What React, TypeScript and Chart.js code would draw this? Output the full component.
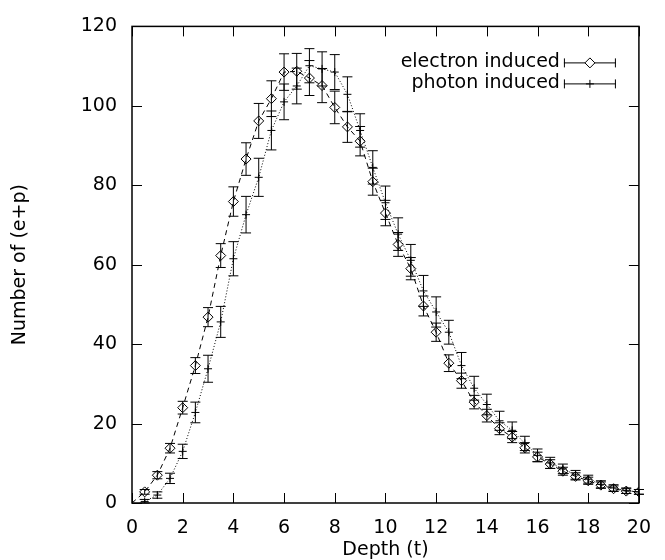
import React, { useEffect, useRef } from "react";
import { Chart, registerables } from "chart.js";

Chart.register(...registerables);

// ---- data ----
const depth = [
  0.5, 1, 1.5, 2, 2.5, 3, 3.5, 4, 4.5, 5,
  5.5, 6, 6.5, 7, 7.5, 8, 8.5, 9, 9.5, 10,
  10.5, 11, 11.5, 12, 12.5, 13, 13.5, 14, 14.5, 15,
  15.5, 16, 16.5, 17, 17.5, 18, 18.5, 19, 19.5, 20,
];

const electronValues = [
  2.8, 7.0, 13.8, 24.0, 34.6, 46.8, 62.3, 75.9, 86.6, 96.2,
  101.8, 108.5, 108.7, 107.0, 105.1, 99.6, 94.7, 91.1, 80.9, 73.0,
  65.1, 59.0, 49.6, 43.0, 35.2, 30.8, 25.4, 22.0, 18.7, 16.6,
  13.9, 11.6, 9.8, 8.0, 6.7, 5.6, 4.5, 3.6, 3.0, 2.8,
];

const electronErrors = [
  0.6, 0.9, 1.2, 1.6, 2.0, 2.4, 3.0, 3.7, 4.1, 4.4,
  4.5, 4.6, 4.5, 4.4, 4.3, 4.1, 3.9, 3.7, 3.4, 3.2,
  3.0, 2.8, 2.5, 2.3, 2.1, 1.9, 1.7, 1.6, 1.5, 1.4,
  1.3, 1.2, 1.1, 1.0, 0.9, 0.9, 0.8, 0.7, 0.6, 0.6,
];

const photonValues = [
  0.4, 2.0, 6.2, 13.0, 22.8, 33.8, 45.6, 61.5, 72.6, 82.0,
  93.8, 101.0, 105.0, 110.1, 109.3, 108.5, 102.9, 93.8, 84.5, 75.6,
  67.7, 61.1, 53.4, 48.1, 43.0, 34.6, 28.9, 24.8, 20.7, 18.3,
  15.0, 12.0, 10.1, 8.6, 7.1, 6.0, 4.7, 3.8, 3.1, 2.8,
];

const photonErrors = [
  0.5, 0.8, 1.3, 1.8, 2.6, 3.4, 3.9, 4.3, 4.6, 4.8,
  4.9, 4.5, 4.5, 4.3, 4.3, 4.4, 4.4, 4.2, 4.2, 4.2,
  4.1, 4.0, 3.9, 3.8, 3.0, 3.3, 3.0, 2.6, 2.4, 2.1,
  1.8, 1.6, 1.4, 1.2, 1.1, 1.0, 0.9, 0.8, 0.7, 0.6,
];

const curveOrigin = { x: 0, y: 0 };

const xTickValues = [0, 2, 4, 6, 8, 10, 12, 14, 16, 18, 20];
const yTickValues = [0, 20, 40, 60, 80, 100, 120];

const seriesLabels = ["electron induced", "photon induced"];
const xTitle = "Depth (t)";
const yTitle = "Number of (e+p)";

const FONT = "'DejaVu Sans', 'Liberation Sans', sans-serif";
const FONT_SIZE = 19;

// ---- helpers ----
function drawDiamond(ctx: CanvasRenderingContext2D, x: number, y: number, r: number) {
  ctx.beginPath();
  ctx.moveTo(x, y - r);
  ctx.lineTo(x + r, y);
  ctx.lineTo(x, y + r);
  ctx.lineTo(x - r, y);
  ctx.closePath();
  ctx.stroke();
}

function drawCross(ctx: CanvasRenderingContext2D, x: number, y: number, r: number) {
  ctx.beginPath();
  ctx.moveTo(x - r, y);
  ctx.lineTo(x + r, y);
  ctx.moveTo(x, y - r);
  ctx.lineTo(x, y + r);
  ctx.stroke();
}

const errorBarPlugin = {
  id: "errorBars",
  beforeDatasetsDraw(chart: any) {
    const { ctx, scales } = chart;
    const xs = scales.x;
    const ys = scales.y;
    const cap = 5;
    ctx.save();
    ctx.strokeStyle = "#000";
    ctx.lineWidth = 1;
    const series = [
      { vals: electronValues, errs: electronErrors },
      { vals: photonValues, errs: photonErrors },
    ];
    series.forEach((s) => {
      depth.forEach((d, i) => {
        const px = xs.getPixelForValue(d);
        const lo = ys.getPixelForValue(Math.max(0, s.vals[i] - s.errs[i]));
        const hi = ys.getPixelForValue(s.vals[i] + s.errs[i]);
        ctx.beginPath();
        ctx.moveTo(px, lo);
        ctx.lineTo(px, hi);
        ctx.moveTo(px - cap, lo);
        ctx.lineTo(px + cap, lo);
        ctx.moveTo(px - cap, hi);
        ctx.lineTo(px + cap, hi);
        ctx.stroke();
      });
    });
    ctx.restore();
  },
  afterDraw(chart: any) {
    const { ctx, chartArea, scales } = chart;
    const { left, right, top, bottom } = chartArea;
    const tick = 10;
    ctx.save();
    ctx.strokeStyle = "#000";
    ctx.lineWidth = 1.5;
    ctx.strokeRect(left, top, right - left, bottom - top);
    ctx.lineWidth = 1;
    ctx.beginPath();
    xTickValues.forEach((v) => {
      const px = Math.round(scales.x.getPixelForValue(v)) + 0.5;
      ctx.moveTo(px, bottom);
      ctx.lineTo(px, bottom - tick);
      ctx.moveTo(px, top);
      ctx.lineTo(px, top + tick);
    });
    yTickValues.forEach((v) => {
      const py = Math.round(scales.y.getPixelForValue(v)) + 0.5;
      ctx.moveTo(left, py);
      ctx.lineTo(left + tick, py);
      ctx.moveTo(right, py);
      ctx.lineTo(right - tick, py);
    });
    ctx.stroke();

    // legend
    const textRight = right - 79;
    const sLeft = right - 75;
    const sRight = right - 23;
    const sMid = (sLeft + sRight) / 2;
    ctx.font = `${FONT_SIZE}px ${FONT}`;
    ctx.fillStyle = "#000";
    ctx.textAlign = "right";
    ctx.textBaseline = "middle";
    seriesLabels.forEach((label, i) => {
      const y = top + 36 + i * 21;
      ctx.fillText(label, textRight, y);
      ctx.beginPath();
      ctx.moveTo(sLeft, y + 0.5);
      ctx.lineTo(sRight, y + 0.5);
      ctx.moveTo(sLeft + 0.5, y - 4);
      ctx.lineTo(sLeft + 0.5, y + 5);
      ctx.moveTo(sRight - 0.5, y - 4);
      ctx.lineTo(sRight - 0.5, y + 5);
      ctx.stroke();
      if (i === 0) {
        ctx.fillStyle = "#fff";
        ctx.beginPath();
        ctx.moveTo(sMid, y - 5);
        ctx.lineTo(sMid + 5, y);
        ctx.lineTo(sMid, y + 5);
        ctx.lineTo(sMid - 5, y);
        ctx.closePath();
        ctx.fill();
        ctx.fillStyle = "#000";
        drawDiamond(ctx, sMid, y + 0.5, 5);
      } else {
        drawCross(ctx, sMid, y + 0.5, 4);
      }
    });
    ctx.restore();
  },
};

export default function App() {
  const canvasRef = useRef<HTMLCanvasElement | null>(null);

  useEffect(() => {
    document.body.style.margin = "0";
    const canvas = canvasRef.current;
    if (!canvas) return;

    const electronPts = depth.map((d, i) => ({ x: d, y: electronValues[i] }));
    const photonPts = depth.map((d, i) => ({ x: d, y: photonValues[i] }));

    const tickFont = { family: FONT, size: FONT_SIZE };

    const chart = new Chart(canvas, {
      type: "scatter",
      data: {
        datasets: [
          {
            type: "line",
            label: "electron curve",
            data: [curveOrigin, ...electronPts],
            borderColor: "#000",
            borderWidth: 1,
            borderDash: [5, 4],
            pointRadius: 0,
            fill: false,
            tension: 0,
          } as any,
          {
            type: "line",
            label: "photon curve",
            data: photonPts,
            borderColor: "#000",
            borderWidth: 1,
            borderDash: [1, 2],
            pointRadius: 0,
            fill: false,
            tension: 0,
          } as any,
          {
            label: seriesLabels[0],
            data: electronPts,
            pointStyle: "rectRot",
            pointRadius: 5,
            pointBorderColor: "#000",
            pointBackgroundColor: "rgba(0,0,0,0)",
            pointBorderWidth: 1,
            showLine: false,
          },
          {
            label: seriesLabels[1],
            data: photonPts,
            pointStyle: "cross",
            pointRadius: 4,
            pointBorderColor: "#000",
            pointBorderWidth: 1,
            showLine: false,
          },
        ],
      },
      options: {
        responsive: false,
        animation: false,
        events: [],
        layout: { padding: { top: 13, right: 13, left: 0, bottom: 0 } },
        plugins: {
          legend: { display: false },
          tooltip: { enabled: false },
        },
        scales: {
          x: {
            type: "linear",
            min: 0,
            max: 20,
            afterBuildTicks: (s: any) => {
              s.ticks = xTickValues.map((v) => ({ value: v }));
            },
            afterFit: (s: any) => {
              s.height = 57;
            },
            grid: { display: false, drawTicks: false },
            border: { display: false },
            ticks: {
              font: tickFont,
              color: "#000",
              padding: 14,
              maxRotation: 0,
              autoSkip: false,
            },
            title: {
              display: true,
              text: xTitle,
              color: "#000",
              font: { family: FONT, size: FONT_SIZE, lineHeight: 1 },
              padding: { top: 0, bottom: 0 },
            },
          },
          y: {
            type: "linear",
            min: 0,
            max: 120,
            afterBuildTicks: (s: any) => {
              s.ticks = yTickValues.map((v) => ({ value: v }));
            },
            afterFit: (s: any) => {
              s.width = 132;
            },
            grid: { display: false, drawTicks: false },
            border: { display: false },
            ticks: {
              font: tickFont,
              color: "#000",
              padding: 15,
              autoSkip: false,
            },
            title: {
              display: true,
              text: yTitle,
              color: "#000",
              font: { family: FONT, size: FONT_SIZE, lineHeight: 1 },
              padding: { top: 10.5, bottom: 0 },
            },
          },
        },
      },
      plugins: [errorBarPlugin],
    });

    return () => chart.destroy();
  }, []);

  return (
    <div style={{ width: 665, height: 560 }}>
      <canvas ref={canvasRef} width={665} height={560} style={{ display: "block" }} />
    </div>
  );
}
